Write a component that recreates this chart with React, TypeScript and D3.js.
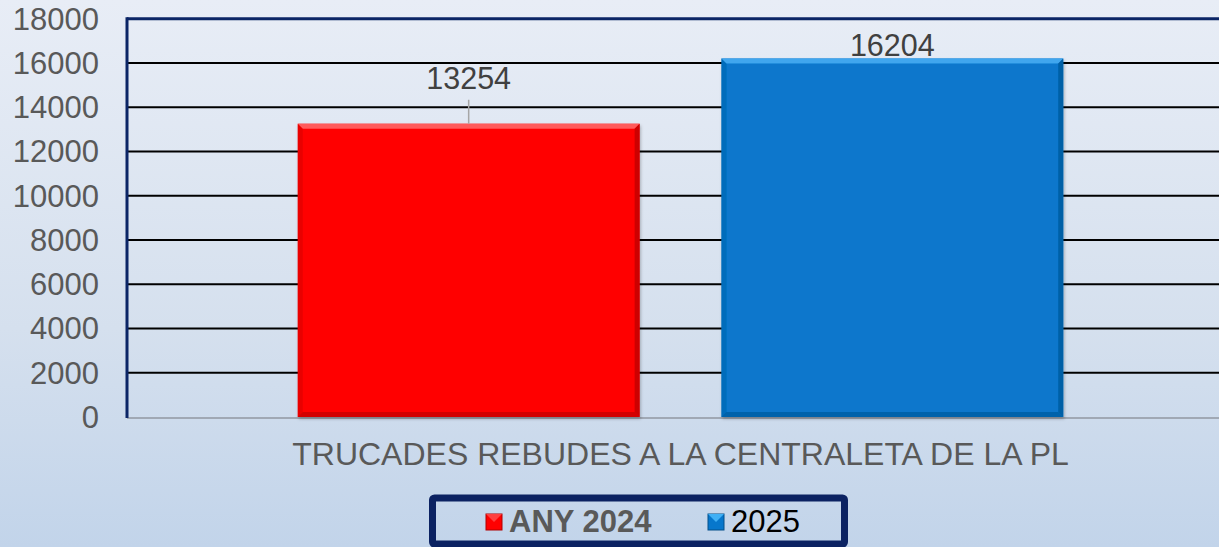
import React from "react";
import * as d3 from "d3";

const categories = ["TRUCADES REBUDES A LA CENTRALETA DE LA PL"];
const seriesNames = ["ANY 2024", "2025"];
const values2024 = [13254];
const values2025 = [16204];
const yTicks = [0, 2000, 4000, 6000, 8000, 10000, 12000, 14000, 16000, 18000];

const W = 1219;
const H = 547;

export default function App() {
  const left = 127;
  const right = 1234;
  const top = 18.75;
  const bottom = 417;

  const y = d3.scaleLinear().domain([0, 18000]).range([bottom, top]);
  const x0 = d3.scaleBand().domain(categories).range([left, right]).paddingInner(0).paddingOuter(0);
  const x1 = d3
    .scaleBand()
    .domain(seriesNames)
    .range([0, x0.bandwidth()])
    .paddingInner(0.193)
    .paddingOuter(0.403);

  const series = [
    { name: seriesNames[0], values: values2024, base: "#ff0000", light: "#ff5a5a", dark: "#c00000", id: "r" },
    { name: seriesNames[1], values: values2025, base: "#0777cc", light: "#3fa6ee", dark: "#045a9c", id: "b" },
  ];

  const font = "Liberation Sans, Arial, sans-serif";

  return (
    <svg
      width={W}
      height={H}
      style={{ position: "absolute", left: 0, top: 0, fontFamily: font }}
    >
      <defs>
        <linearGradient id="bg" x1="0" y1="0" x2="0" y2="1">
          <stop offset="0" stopColor="#e8edf6" />
          <stop offset="0.6" stopColor="#d5e0ee" />
          <stop offset="1" stopColor="#c2d4ea" />
        </linearGradient>
        <filter id="sh" x="-5%" y="-5%" width="110%" height="110%">
          <feDropShadow dx="1" dy="2" stdDeviation="1.5" floodColor="#000" floodOpacity="0.25" />
        </filter>
      </defs>
      <rect x={0} y={0} width={W} height={H} fill="url(#bg)" />

      {/* gridlines */}
      {yTicks.slice(1, -1).map((t) => (
        <line key={t} x1={left} x2={W} y1={y(t)} y2={y(t)} stroke="#000" strokeWidth={2} />
      ))}
      {/* top border */}
      <line x1={left} x2={W} y1={y(18000)} y2={y(18000)} stroke="#0b2566" strokeWidth={3} />
      {/* baseline */}
      <line x1={left} x2={W} y1={bottom + 1} y2={bottom + 1} stroke="#a0a8b4" strokeWidth={2} />

      {/* bars */}
      {categories.map((c, ci) =>
        series.map((s) => {
          const bx = (x0(c) ?? 0) + (x1(s.name) ?? 0);
          const bw = x1.bandwidth();
          const by = y(s.values[ci]);
          const bh = bottom - by;
          const e = 5;
          return (
            <g key={s.name + c} filter="url(#sh)">
              <rect x={bx} y={by} width={bw} height={bh} fill={s.base} />
              <polygon points={`${bx},${by} ${bx + bw},${by} ${bx + bw - e},${by + e} ${bx + e},${by + e}`} fill={s.light} />
              <polygon points={`${bx + bw},${by} ${bx + bw},${by + bh} ${bx + bw - e},${by + bh - e} ${bx + bw - e},${by + e}`} fill={s.dark} opacity={0.8} />
              <polygon points={`${bx},${by + bh} ${bx + bw},${by + bh} ${bx + bw - e},${by + bh - e} ${bx + e},${by + bh - e}`} fill={s.dark} opacity={0.7} />
              <polygon points={`${bx},${by} ${bx + e},${by + e} ${bx + e},${by + bh - e} ${bx},${by + bh}`} fill={s.dark} opacity={0.35} />
            </g>
          );
        })
      )}

      {/* data labels */}
      {categories.map((c, ci) =>
        series.map((s, si) => {
          const cx = (x0(c) ?? 0) + (x1(s.name) ?? 0) + x1.bandwidth() / 2;
          const by = y(s.values[ci]);
          const offset = si === 0 ? 45 : 13.5;
          return (
            <g key={"lab" + s.name}>
              {si === 0 && <line x1={cx} x2={cx} y1={by - 24} y2={by} stroke="#a6a6a6" strokeWidth={1.5} />}
              <text x={cx} y={by - offset} dy="0.35em" textAnchor="middle" fontSize={30.5} fill="#404040">
                {s.values[ci]}
              </text>
            </g>
          );
        })
      )}

      {/* left axis */}
      <line x1={left} x2={left} y1={top - 1.5} y2={bottom + 1} stroke="#0b2566" strokeWidth={3} />

      {/* y tick labels */}
      {yTicks.map((t) => (
        <text key={t} x={99} y={y(t)} dy="0.35em" textAnchor="end" fontSize={31} fill="#595959">
          {t}
        </text>
      ))}

      {/* category label */}
      {categories.map((c) => (
        <text key={c} x={(x0(c) ?? 0) + x0.bandwidth() / 2} y={454} dy="0.35em" textAnchor="middle" fontSize={32} fill="#595959">
          {c}
        </text>
      ))}

      {/* legend */}
      <rect x={432.5} y={498} width={412} height={46} fill="none" stroke="#0b2262" strokeWidth={7} rx={2} />
      <g>
        <rect x={486} y={514} width={16} height={16} fill="#ff0000" stroke="#b00000" strokeWidth={1} />
        <polygon points="486,514 502,514 494,522" fill="#ff4040" />
        <text x={509} y={521} dy="0.35em" fontSize={31} fontWeight="bold" fill="#595959">
          {seriesNames[0]}
        </text>
        <rect x={708} y={514} width={16} height={16} fill="#0777cc" stroke="#05508a" strokeWidth={1} />
        <polygon points="708,514 724,514 716,522" fill="#40b0f5" />
        <text x={731} y={521} dy="0.35em" fontSize={31} fill="#000">
          {seriesNames[1]}
        </text>
      </g>
    </svg>
  );
}
